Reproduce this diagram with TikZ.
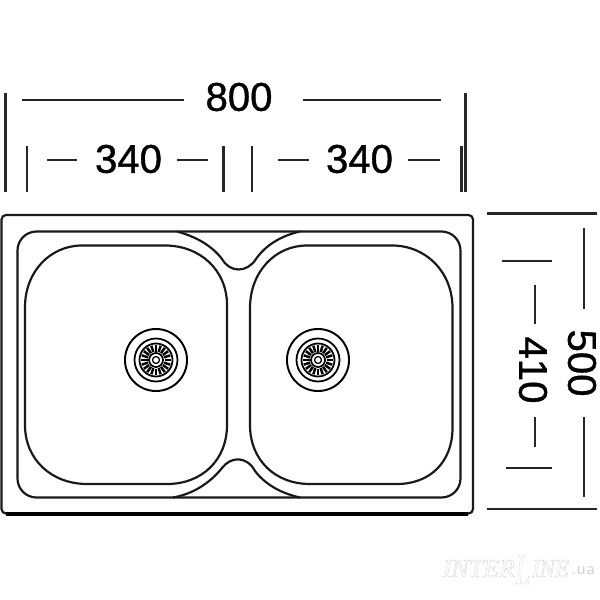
\documentclass[tikz,border=0pt]{standalone}
\usepackage{fontspec}
\setmainfont{Liberation Sans}
\newfontfamily\dimfont[FakeBold=1]{Liberation Sans}
\newfontfamily\logofont{Liberation Serif}
\usepackage{xcolor}
\usetikzlibrary{positioning}
\definecolor{logogray}{HTML}{D4D4D4}
\newcommand{\hollow}[1]{\special{pdf:code 1 Tr 0.12 w}#1\special{pdf:code 0 Tr}}

\begin{document}
\begin{tikzpicture}[x=0.01cm,y=-0.01cm]
        \tikzset{outline/.style = {line width=0.62pt,black!90}}
        \tikzset{dimline/.style = {line width=0.6pt,black!85}}
        \tikzset{dimtext/.style = {font=\dimfont\fontsize{11.4}{12}\selectfont,inner sep=0pt}}
        \tikzset{logotext/.style = {logogray,inner sep=0pt,anchor=west}}
        \useasboundingbox (0,0) rectangle (600,600);

        % sink body
        \draw[outline,rounded corners=0.45mm] (1.5,215) rectangle (473,513.5);
        \draw[line width=0.9pt] (6,514) -- (468,514);
        \draw[outline,rounded corners=0.19cm] (17.5,231.5) rectangle (460.5,497.5);

        % left bowl
        \draw[outline] (82,245.5) -- (165,245.5) .. controls (200,245.5) and (227,270) .. (227,305)
            -- (227,425) .. controls (227,460) and (202,484) .. (167,484) -- (87,484)
            .. controls (52,484) and (25,460) .. (25,425) -- (25,307)
            .. controls (25,272) and (50,245.5) .. (82,245.5) -- cycle;

        % right bowl
        \draw[outline] (307,245.5) -- (392,245.5) .. controls (426,245.5) and (452.5,272) .. (452.5,308)
            -- (452.5,428) .. controls (452.5,462) and (430,484) .. (397,484) -- (310,484)
            .. controls (275,484) and (250,460) .. (250,425) -- (250,308)
            .. controls (250,272) and (275,245.5) .. (307,245.5) -- cycle;

        % divider
        \draw[outline] (177,231.5) .. controls (197,237) and (212,246) .. (222,259)
            .. controls (230,273) and (247,273) .. (256,259)
            .. controls (265,246) and (280,236) .. (300,231.5);
        \draw[outline] (173,497.5) .. controls (193,494) and (210,483) .. (222,468)
            .. controls (231,456) and (247,456) .. (255,471)
            .. controls (265,484) and (280,493) .. (300,497.5);

        % drains
        \foreach \name/\cx in {left/156,right/318} {
            \begin{scope}[shift={(\cx,360)}]
                \node[circle,inner sep=0pt,minimum size=0.62cm,draw,line width=0.55pt] (drain\name) at (0,0) {};
                \draw[line width=0.5pt] (0,0) circle (21.5);
                \draw[line width=0.5pt] (0,0) circle (16.5);
                \draw[line width=0.5pt] (0,0) circle (7);
                \draw[line width=0.35pt] (0,0) circle (3.5);
                \foreach \ang in {0,18,...,342} {
                    \draw[line width=0.7pt] (\ang:8.5) -- (\ang:15);
                }
            \end{scope}
        }

        % 800
        \node[dimtext] (top) at (239,97) {800};
        \draw[dimline] (5.5,93) -- (5.5,192);
        \draw[dimline] (465.5,93) -- (465.5,192);
        \draw[dimline] (22,100) -- (184,100);
        \draw[dimline] (303,100) -- (441,100);

        % 340
        \node[dimtext] (leftw) at (128.5,159) {340};
        \node[dimtext] (rightw) at (359.5,159) {340};
        \foreach \x in {27,223.5,252,461.5} {
            \draw[dimline] (\x,146) -- (\x,192);
        }
        \draw[dimline] (47,160) -- (77,160);
        \draw[dimline] (177,160) -- (208,160);
        \draw[dimline] (278,160) -- (309,160);
        \draw[dimline] (408,160) -- (440,160);

        % 500
        \node[dimtext,rotate=-90] (outerh) at (582,363) {500};
        \draw[dimline] (487,213.5) -- (597,213.5);
        \draw[dimline] (487,509) -- (597,509);
        \draw[dimline] (584,228) -- (584,309);
        \draw[dimline] (584,417) -- (584,497);

        % 410
        \node[dimtext,rotate=-90] (innerh) at (533,370) {410};
        \draw[dimline] (502,261) -- (552,261);
        \draw[dimline] (506,468) -- (552,468);
        \draw[dimline] (535,285) -- (535,324);
        \draw[dimline] (535,417) -- (535,447);

        % logo
        \node[logotext,font=\logofont\itshape\fontsize{7.4}{8}\selectfont] (logoa) at (442,568.5) {\hollow{INTER}};
        \node[logotext,font=\logofont\itshape\fontsize{13}{14}\selectfont,xscale=0.6] (logob) at (515,570) {\hollow{L}};
        \node[logotext,font=\logofont\itshape\fontsize{7.4}{8}\selectfont,xscale=0.88] (logoc) at (531.5,568.5) {\hollow{INE}};
        \node[logotext,font=\sffamily\fontsize{5}{6}\selectfont] (logod) at (570.5,571) {.ua};

        \end{tikzpicture}
\end{document}
